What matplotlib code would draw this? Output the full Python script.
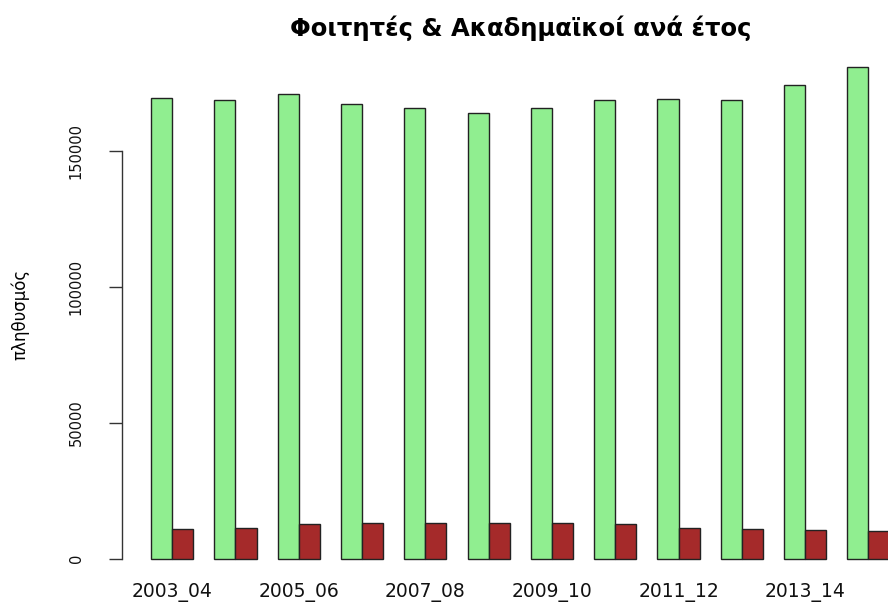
import matplotlib
matplotlib.use("Agg")
import matplotlib.pyplot as plt
import numpy as np

# academic years (R barplot drops every other label because of overlap)
years = ["2003_04", "2004_05", "2005_06", "2006_07", "2007_08", "2008_09",
         "2009_10", "2010_11", "2011_12", "2012_13", "2013_14", "2014_15"]
students = [169650, 168900, 170900, 167200, 165750, 163900,
            165750, 168900, 169300, 168900, 174450, 180850]
academics = [10950, 11300, 12550, 13000, 13000, 13250,
             13000, 12550, 11300, 10950, 10600, 10050]

plt.rcParams["font.family"] = ["DejaVu Sans"]

W, H = 888, 606
fig = plt.figure(figsize=(W / 100, H / 100), dpi=100)

# plot region in pixels: left axis at x=121.7, y zero at 558.5, 150000 at 151
px_per_unit = 21.1
x0_px = 129.9
left_px, top_px, bot_px = 121.7, 48.0, 577.0
xmin = (left_px - x0_px) / px_per_unit
xmax = (W - x0_px) / px_per_unit
yscale = 150000 / (558.5 - 151.0)
ymin = -(bot_px - 558.5) * yscale
ymax = (558.5 - top_px) * yscale

ax = fig.add_axes([left_px / W, (H - bot_px) / H, 1 - left_px / W,
                   (bot_px - top_px) / H])

n = len(years)
g = np.arange(n) * 3
ax.bar(g + 1, students, width=1, align="edge", color="#90EE90",
       edgecolor="#222222", linewidth=1.0)
ax.bar(g + 2, academics, width=1, align="edge", color="#A52A2A",
       edgecolor="#222222", linewidth=1.0)

ax.set_xlim(xmin, xmax)
ax.set_ylim(ymin, ymax)

for s in ["top", "right", "bottom"]:
    ax.spines[s].set_visible(False)
ax.spines["left"].set_bounds(0, 150000)
ax.spines["left"].set_color("#333333")
ax.spines["left"].set_linewidth(1.0)

ax.set_yticks([0, 50000, 100000, 150000])
ax.set_yticklabels(["0", "50000", "100000", "150000"])
ax.tick_params(axis="y", labelrotation=90, length=9.4, width=1.0,
               color="#333333", pad=18, labelsize=10.5, labelcolor="#111111")
for lab in ax.get_yticklabels():
    lab.set_va("center")

ax.set_xticks(g[::2] + 2)
ax.set_xticklabels(years[::2])
ax.tick_params(axis="x", length=0, pad=4, labelsize=13.5, labelcolor="#111111")

fig.text(521 / W, (H - 28) / H, "Φοιτητές & Ακαδημαϊκοί ανά έτος",
         ha="center", va="center", fontsize=17.5, fontweight="bold")
fig.text(20 / W, (H - 314) / H, "πληθυσμός", rotation=90,
         ha="center", va="center", fontsize=12,
         family=["Liberation Sans Narrow", "DejaVu Sans"])

fig.savefig("out.png", dpi=100)
